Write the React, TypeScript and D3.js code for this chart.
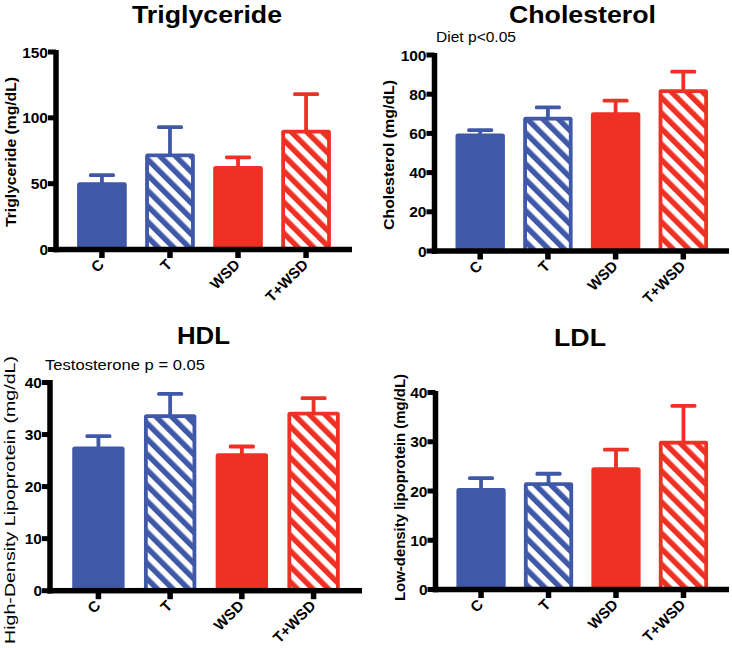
import React from "react";
import * as d3 from "d3";

const groups = ["C", "T", "WSD", "T+WSD"];

const triglycerideMean = [51, 73, 63.5, 91];
const triglycerideSem = [5.5, 20, 6.5, 27];
const triglycerideTicks = [0, 50, 100, 150];

const cholesterolMean = [60, 68.5, 70.8, 82.5];
const cholesterolSem = [1.7, 4.8, 5.9, 9];
const cholesterolTicks = [0, 20, 40, 60, 80, 100];

const hdlMean = [27.7, 33.9, 26.4, 34.4];
const hdlSem = [2, 3.9, 1.3, 2.6];
const hdlTicks = [0, 10, 20, 30, 40];

const ldlMean = [20.6, 21.8, 24.8, 30.2];
const ldlSem = [2, 1.7, 3.6, 7.1];
const ldlTicks = [0, 10, 20, 30, 40];

const BLUE = "#3F58A8";
const RED = "#EE3124";
const FONT = "'Liberation Sans', Arial, Helvetica, sans-serif";
const groupColor = [BLUE, BLUE, RED, RED];
const groupHatch = [false, true, false, true];

type PanelProps = {
  title: string;
  titleX: number;
  titleY: number;
  titleLength: number;
  yLabel: string;
  yLabelX: number;
  yLabelY: number;
  yLabelSize: number;
  yLabelWeight: string;
  yLabelLength: number;
  note?: string;
  noteX?: number;
  noteY?: number;
  noteSize?: number;
  noteLength?: number;
  means: number[];
  sems: number[];
  ticks: number[];
  axisX: number;
  xEnd: number;
  y0: number;
  yMaxPx: number;
  axisTop: number;
};

const AX = 5.5; // axis thickness
const SW = 3.8; // bar border / error line thickness

function Panel(p: PanelProps) {
  const max = p.ticks[p.ticks.length - 1];
  const y = d3.scaleLinear().domain([0, max]).range([p.y0, p.yMaxPx]);
  const x = d3
    .scaleBand<string>()
    .domain(groups)
    .range([p.axisX, p.xEnd])
    .paddingInner(0.27)
    .paddingOuter(0.31);
  const bw = x.bandwidth();
  return (
    <g fontFamily={FONT}>
      <text
        x={p.titleX}
        y={p.titleY}
        textAnchor="middle"
        fontSize={24}
        fontWeight="bold"
        textLength={p.titleLength}
        lengthAdjust="spacingAndGlyphs"
      >
        {p.title}
      </text>
      {p.note && (
        <text
          x={p.noteX}
          y={p.noteY}
          fontSize={p.noteSize}
          textLength={p.noteLength}
          lengthAdjust="spacingAndGlyphs"
        >
          {p.note}
        </text>
      )}
      <text
        transform={`translate(${p.yLabelX},${p.yLabelY}) rotate(-90)`}
        textAnchor="middle"
        fontSize={p.yLabelSize}
        fontWeight={p.yLabelWeight}
        textLength={p.yLabelLength}
        lengthAdjust="spacingAndGlyphs"
      >
        {p.yLabel}
      </text>
      {groups.map((g, i) => {
        const x0 = x(g)!;
        const top = y(p.means[i]);
        const errTop = y(p.means[i] + p.sems[i]);
        const cx = x0 + bw / 2;
        const col = groupColor[i];
        return (
          <g key={g}>
            <rect
              x={cx - SW / 2}
              y={errTop}
              width={SW}
              height={top - errTop + 1}
              fill={col}
            />
            <rect
              x={cx - 13}
              y={errTop - SW / 2}
              width={26}
              height={SW}
              rx={1.5}
              fill={col}
            />
            <rect
              x={x0}
              y={top}
              width={bw}
              height={p.y0 - top + 2}
              rx={2.5}
              fill={col}
            />
            {groupHatch[i] && (
              <rect
                x={x0 + SW}
                y={top + SW}
                width={bw - 2 * SW}
                height={p.y0 - top - SW}
                fill={col === BLUE ? "url(#hatchBlue)" : "url(#hatchRed)"}
              />
            )}
          </g>
        );
      })}
      {/* y axis */}
      <rect
        x={p.axisX - AX / 2}
        y={p.axisTop}
        width={AX}
        height={p.y0 + AX / 2 - p.axisTop}
        fill="#000"
      />
      {/* x axis */}
      <rect
        x={p.axisX - AX / 2}
        y={p.y0 - AX / 2}
        width={p.xEnd - p.axisX + AX / 2}
        height={AX}
        fill="#000"
      />
      {p.ticks.map((t) => (
        <g key={t}>
          <rect
            x={p.axisX - 8}
            y={y(t) - 2.5}
            width={8}
            height={5}
            fill="#000"
          />
          <text
            x={p.axisX - 8}
            y={y(t)}
            dy="0.36em"
            textAnchor="end"
            fontSize={15.5}
            fontWeight="bold"
          >
            {t}
          </text>
        </g>
      ))}
      {groups.map((g) => {
        const cx = x(g)! + bw / 2;
        return (
          <g key={g}>
            <rect
              x={cx - 2.75}
              y={p.y0}
              width={5.5}
              height={8.5}
              fill="#000"
            />
            <text
              transform={`translate(${cx + 3},${p.y0 + 16}) rotate(-45)`}
              textAnchor="end"
              fontSize={15}
              fontWeight="bold"
            >
              {g}
            </text>
          </g>
        );
      })}
    </g>
  );
}

export default function App() {
  return (
    <svg
      width={732}
      height={648}
      style={{ position: "absolute", left: 0, top: 0, background: "#fff" }}
    >
      <defs>
        <pattern
          id="hatchBlue"
          patternUnits="userSpaceOnUse"
          width={11}
          height={11}
          patternTransform="rotate(45)"
        >
          <rect width={11} height={11} fill={BLUE} />
          <rect width={11} height={5.5} fill="#fff" />
        </pattern>
        <pattern
          id="hatchRed"
          patternUnits="userSpaceOnUse"
          width={11}
          height={11}
          patternTransform="rotate(45)"
        >
          <rect width={11} height={11} fill={RED} />
          <rect width={11} height={5.5} fill="#fff" />
        </pattern>
      </defs>
      <rect width={732} height={648} fill="#fff" />
      <Panel
        title="Triglyceride"
        titleX={207}
        titleY={23}
        titleLength={150}
        yLabel="Triglyceride (mg/dL)"
        yLabelX={16}
        yLabelY={152}
        yLabelSize={15.5}
        yLabelWeight="bold"
        yLabelLength={150}
        means={triglycerideMean}
        sems={triglycerideSem}
        ticks={triglycerideTicks}
        axisX={56}
        xEnd={352}
        y0={249.5}
        yMaxPx={52}
        axisTop={50}
      />
      <Panel
        title="Cholesterol"
        titleX={582.5}
        titleY={23}
        titleLength={147}
        yLabel="Cholesterol (mg/dL)"
        yLabelX={394}
        yLabelY={155}
        yLabelSize={15.5}
        yLabelWeight="bold"
        yLabelLength={150}
        note="Diet p<0.05"
        noteX={436}
        noteY={42}
        noteSize={15}
        noteLength={80}
        means={cholesterolMean}
        sems={cholesterolSem}
        ticks={cholesterolTicks}
        axisX={434.5}
        xEnd={729}
        y0={251}
        yMaxPx={55}
        axisTop={53}
      />
      <Panel
        title="HDL"
        titleX={203.5}
        titleY={344}
        titleLength={53}
        yLabel="High-Density Lipoprotein (mg/dL)"
        yLabelX={14.5}
        yLabelY={500}
        yLabelSize={15.5}
        yLabelWeight="normal"
        yLabelLength={288}
        note="Testosterone p = 0.05"
        noteX={45}
        noteY={370}
        noteSize={15}
        noteLength={160}
        means={hdlMean}
        sems={hdlSem}
        ticks={hdlTicks}
        axisX={50}
        xEnd={362}
        y0={590.7}
        yMaxPx={382.5}
        axisTop={380}
      />
      <Panel
        title="LDL"
        titleX={580}
        titleY={346}
        titleLength={52}
        yLabel="Low-density lipoprotein (mg/dL)"
        yLabelX={405}
        yLabelY={487.5}
        yLabelSize={15}
        yLabelWeight="bold"
        yLabelLength={227}
        means={ldlMean}
        sems={ldlSem}
        ticks={ldlTicks}
        axisX={435.5}
        xEnd={729}
        y0={589.5}
        yMaxPx={392.5}
        axisTop={391}
      />
    </svg>
  );
}
